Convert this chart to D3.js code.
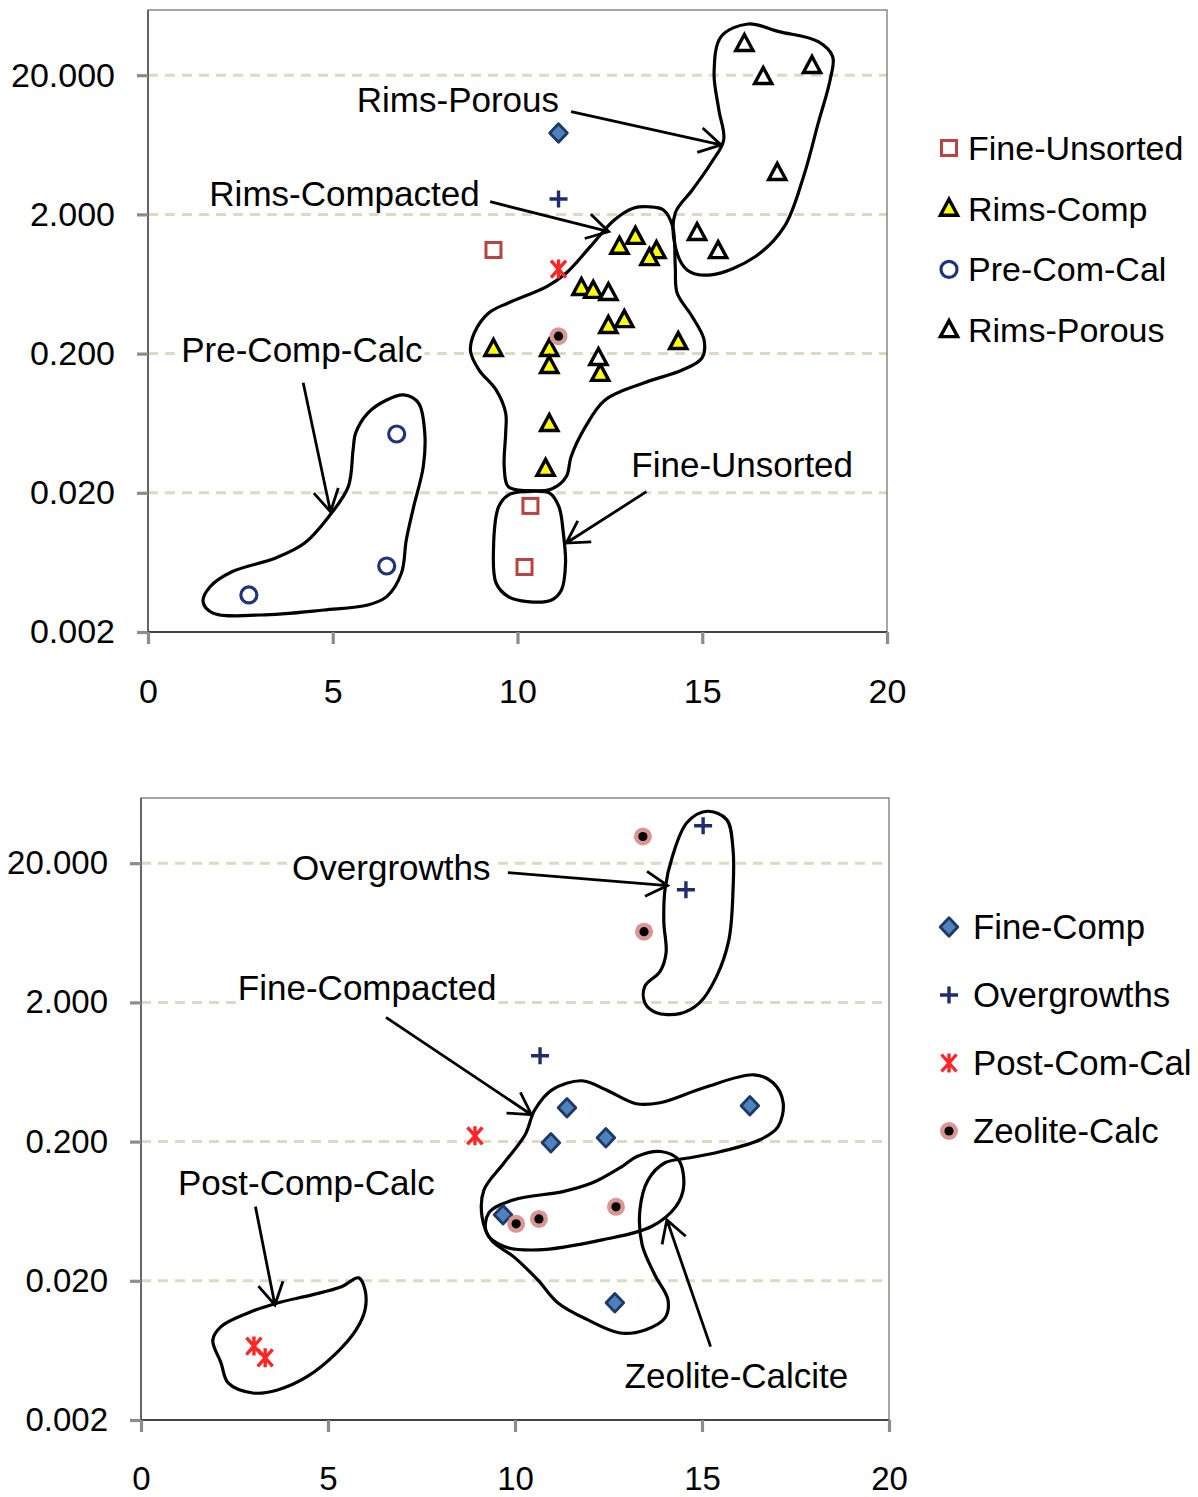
<!DOCTYPE html>
<html><head><meta charset="utf-8">
<script src="https://cdn.jsdelivr.net/npm/d3@7"></script>
<style>body{margin:0;background:#fff}svg{display:block;font-family:"Liberation Sans",Arial,sans-serif}</style>
</head><body><svg id="c" width="1198" height="1497"></svg>
<script>
// ---------- axes ----------
const Y_MIN = 0.002, Y_MAX = 58.8;
const yTicks = [0.002, 0.02, 0.2, 2, 20];
const xTicks = [0, 5, 10, 15, 20];

// ---------- top chart series [x, y] ----------
const topFineUnsorted = [[9.35,1.11],[10.35,0.0161],[10.19,0.00586]];
const topRimsComp = [[12.76,1.17],[13.19,1.38],[13.76,1.09],[13.57,0.97],[11.73,0.592],[12.05,0.564],
  [12.46,0.316],[12.89,0.348],[14.35,0.242],[9.35,0.216],[10.86,0.216],[10.86,0.163],[12.24,0.143],
  [10.86,0.0624],[10.76,0.0297]];
const topPreComCal = [[6.73,0.0529],[6.46,0.00596],[2.73,0.00369]];
const topRimsPorous = [[16.14,33.5],[16.65,19.4],[17.97,23.3],[17.03,3.97],[14.86,1.47],[15.43,1.09],
  [12.46,0.545],[12.19,0.186]];
const topFineComp = [[11.11,7.69]];
const topOvergrowths = [[11.11,2.58]];
const topPostComCal = [[11.11,0.81]];
const topZeolite = [[11.11,0.267]];

// ---------- bottom chart series [x, y] ----------
const botFineComp = [[11.39,0.350],[10.96,0.196],[12.43,0.213],[16.28,0.362],[9.68,0.0596],[12.67,0.0139]];
const botOvergrowths = [[15.03,37.2],[14.57,12.9],[10.67,0.828]];
const botPostComCal = [[8.93,0.220],[3.02,0.0068],[3.32,0.0056]];
const botZeolite = [[13.42,31.1],[13.45,6.44],[10.03,0.0513],[10.64,0.0557],[12.70,0.068]];

// ---------- legends ----------
const topLegend = ["Fine-Unsorted","Rims-Comp","Pre-Com-Cal","Rims-Porous"];
const botLegend = ["Fine-Comp","Overgrowths","Post-Com-Cal","Zeolite-Calc"];

// ---------- hand-drawn annotations: [x, decades above Y_MIN] ----------
const topBlobs = [
  [[16.24,4.368],[17.08,4.313],[18.14,4.241],[18.53,4.133],[18.46,3.966],[18.14,3.657],[17.74,3.271],[17.22,2.912],
   [16.43,2.696],[15.24,2.565],[14.59,2.601],[14.27,2.768],[14.27,3.010],[14.73,3.175],[15.24,3.369],[15.58,3.534],
   [15.45,3.750],[15.32,4.016],[15.51,4.277]],
  [[13.54,3.055],[13.95,3.032],[14.20,2.912],[14.27,2.624],[14.32,2.435],[14.73,2.265],[15.05,2.098],[14.99,1.968],
   [14.46,1.882],[13.41,1.789],[12.37,1.667],[11.84,1.475],[11.45,1.259],[11.32,1.116],[10.92,1.027],[10.27,1.015],
   [9.75,1.044],[9.64,1.188],[9.68,1.430],[9.68,1.573],[9.42,1.739],[8.96,1.882],[8.73,2.014],[8.83,2.148],
   [9.22,2.292],[9.75,2.364],[10.79,2.481],[11.32,2.579],[11.97,2.768],[12.62,2.960],[13.15,3.046]],
  [[10.14,1.008],[10.86,0.999],[11.12,0.900],[11.24,0.711],[11.30,0.496],[11.19,0.302],[10.92,0.230],[10.27,0.218],
   [9.75,0.254],[9.42,0.352],[9.35,0.589],[9.49,0.900],[9.75,0.984]],
  [[6.92,1.703],[7.32,1.645],[7.49,1.430],[7.45,1.188],[7.19,0.900],[6.99,0.661],[6.86,0.424],[6.46,0.254],
   [5.95,0.194],[4.76,0.158],[3.05,0.122],[1.76,0.136],[1.49,0.218],[1.68,0.325],[2.27,0.433],[3.46,0.532],
   [4.24,0.639],[4.89,0.828],[5.42,1.044],[5.55,1.307],[5.62,1.430],[5.95,1.573],[6.46,1.667]]
];
const topArrows = [
  [[11.45,3.738],[15.51,3.499]],
  [[9.26,3.091],[12.47,2.876]],
  [[4.20,1.791],[4.94,0.864]],
  [[13.49,1.008],[11.32,0.639]]
];
const topLabels = [
  ["Rims-Porous",5.65,3.736],
  ["Rims-Compacted",1.66,3.063],
  ["Pre-Comp-Calc",0.90,1.942],
  ["Fine-Unsorted",13.08,1.111]
];
const botBlobs = [
  [[15.13,4.373],[15.66,4.313],[15.83,4.098],[15.83,3.810],[15.72,3.451],[15.39,3.187],[14.94,2.998],[14.41,2.919],
   [13.76,2.928],[13.47,2.998],[13.47,3.115],[13.88,3.223],[14.04,3.357],[13.98,3.573],[14.01,3.810],[14.21,4.050],
   [14.60,4.292]],
  [[10.53,2.229],[10.99,2.372],[11.79,2.437],[12.43,2.372],[13.24,2.272],[13.88,2.279],[15.05,2.387],[16.39,2.480],
   [16.90,2.423],[17.17,2.279],[17.03,2.106],[16.55,2.013],[15.48,1.927],[14.68,1.884],[14.01,1.848],[13.56,1.725],
   [13.34,1.510],[13.40,1.258],[13.74,1.042],[14.09,0.863],[14.01,0.733],[13.48,0.647],[12.81,0.625],[11.95,0.719],
   [11.15,0.841],[10.61,1.006],[9.97,1.172],[9.36,1.294],[9.12,1.459],[9.17,1.653],[9.71,1.848],[10.27,2.049]],
  [[9.30,1.488],[9.97,1.582],[11.28,1.641],[12.07,1.704],[12.86,1.821],[13.26,1.893],[13.90,1.929],[14.37,1.869],
   [14.51,1.677],[14.30,1.533],[13.65,1.390],[12.33,1.294],[10.61,1.222],[9.71,1.246],[9.24,1.344]],
  [[5.82,1.021],[5.99,0.935],[5.99,0.791],[5.75,0.647],[5.23,0.482],[4.44,0.311],[3.65,0.216],[2.99,0.194],
   [2.33,0.266],[2.14,0.410],[1.92,0.575],[2.14,0.671],[2.86,0.769],[3.65,0.841],[4.57,0.899],[5.36,0.958]]
];
const botArrows = [
  [[9.81,3.932],[14.08,3.839]],
  [[6.55,2.892],[10.44,2.193]],
  [[3.06,1.533],[3.58,0.827]],
  [[15.23,0.527],[14.06,1.438]]
];
const botLabels = [
  ["Overgrowths",4.04,3.882],
  ["Fine-Compacted",2.59,3.014],
  ["Post-Comp-Calc",0.99,1.618],
  ["Zeolite-Calcite",12.93,0.228]
];

// ---------- marker styles ----------
const svg = d3.select("#c");
svg.append("rect").attr("width",1198).attr("height",1497).attr("fill","#fff");

function marker(g, type, x, y){
  const m = g.append("g").attr("transform",`translate(${x},${y})`);
  if(type==="square"){
    m.append("rect").attr("x",-7.5).attr("y",-7.5).attr("width",15).attr("height",15)
     .attr("fill","#fff").attr("stroke","#b8433f").attr("stroke-width",3);
  } else if(type==="triY" || type==="triW"){
    m.append("path").attr("d","M0,-9.5L8.6,6.5L-8.6,6.5Z")
     .attr("fill",type==="triY"?"#ffff00":"#fff").attr("stroke","#000").attr("stroke-width",3.4)
     .attr("stroke-linejoin","miter");
  } else if(type==="circle"){
    m.append("circle").attr("r",8).attr("fill","#fff").attr("stroke","#1f3577").attr("stroke-width",3.2);
  } else if(type==="diamond"){
    m.append("path").attr("d","M0,-9.3L8.8,0L0,9.3L-8.8,0Z").attr("fill","#4f81bd")
     .attr("stroke","#1f3864").attr("stroke-width",2.8).attr("stroke-linejoin","round");
  } else if(type==="plus"){
    m.append("path").attr("d","M-9,0H9M0,-8.5V8.5").attr("stroke","#1f2d6b").attr("stroke-width",3.4);
  } else if(type==="star"){
    m.append("path").attr("d","M-7.5,-8.5L7.5,8.5M7.5,-8.5L-7.5,8.5M0,-9.5V9.5").attr("stroke","#ff2626").attr("stroke-width",3.4);
  } else if(type==="zeo"){
    m.append("circle").attr("r",9).attr("fill","#d99694");
    m.append("circle").attr("r",4.6).attr("fill","#000");
  }
}

function drawPanel(p){
  const x = d3.scaleLinear().domain([0,20]).range([p.left,p.right]);
  const y = d3.scaleLog().domain([Y_MIN,Y_MAX]).range([p.bottom,p.top]);
  const yd = d => Y_MIN*Math.pow(10,d);
  const g = svg.append("g");

  // grid
  g.selectAll(".grid").data(yTicks.slice(1)).join("line")
    .attr("x1",p.left).attr("x2",p.right).attr("y1",d=>y(d)).attr("y2",d=>y(d))
    .attr("stroke","#ddd9c3").attr("stroke-width",3).attr("stroke-dasharray","10,7");

  // frame
  g.append("rect").attr("x",p.left).attr("y",p.top).attr("width",p.right-p.left).attr("height",p.bottom-p.top)
    .attr("fill","none").attr("stroke","#6b6b6b").attr("stroke-width",1.2);
  g.append("line").attr("x1",p.left).attr("x2",p.left).attr("y1",p.top).attr("y2",p.bottom)
    .attr("stroke","#555").attr("stroke-width",1.6);
  g.append("line").attr("x1",p.left).attr("x2",p.right).attr("y1",p.bottom).attr("y2",p.bottom)
    .attr("stroke","#222").attr("stroke-width",1.4);

  // axes
  const ya = g.append("g").attr("transform",`translate(${p.left},0)`)
    .call(d3.axisLeft(y).tickValues(yTicks).tickFormat(d3.format(".3f")).tickSize(11).tickPadding(22));
  const xa = g.append("g").attr("transform",`translate(0,${p.bottom})`)
    .call(d3.axisBottom(x).tickValues(xTicks).tickFormat(d3.format("d")).tickSize(12).tickPadding(35));
  [ya,xa].forEach(a=>{
    a.select(".domain").remove();
    a.selectAll(".tick line").attr("stroke","#8c8c8c").attr("stroke-width",3.2);
    a.selectAll(".tick text").attr("fill","#000").attr("font-size",p.tickFont)
      .attr("font-family",'"Liberation Sans",Arial,sans-serif');
  });

  // blobs
  const line = d3.line().x(d=>x(d[0])).y(d=>y(yd(d[1]))).curve(d3.curveCatmullRomClosed.alpha(0.5));
  g.selectAll(".blob").data(p.blobs).join("path").attr("d",line)
    .attr("fill","none").attr("stroke","#000").attr("stroke-width",3.2).attr("stroke-linejoin","round");

  // arrows
  p.arrows.forEach(a=>{
    const x0=x(a[0][0]), y0=y(yd(a[0][1])), x1=x(a[1][0]), y1=y(yd(a[1][1]));
    const ang=Math.atan2(y0-y1,x0-x1), L=25, h=Math.PI/6;
    const d=`M${x0},${y0}L${x1},${y1}M${x1+L*Math.cos(ang+h)},${y1+L*Math.sin(ang+h)}L${x1},${y1}L${x1+L*Math.cos(ang-h)},${y1+L*Math.sin(ang-h)}`;
    g.append("path").attr("d",d).attr("fill","none").attr("stroke","#000").attr("stroke-width",2.8)
      .attr("stroke-linejoin","miter").attr("stroke-linecap","butt");
  });

  // labels
  p.labels.forEach(l=>{
    const lg = g.append("g");
    const t = lg.append("text").attr("x",x(l[1])).attr("y",y(yd(l[2]))).text(l[0])
      .attr("font-size",35).attr("fill","#000");
    const b = t.node().getBBox();
    lg.insert("rect","text").attr("x",b.x-2).attr("y",b.y+2).attr("width",b.width+4).attr("height",b.height-4)
      .attr("fill","#fff");
  });

  // points
  p.series.forEach(s=>{
    s.data.forEach(d=>marker(g,s.type,x(d[0]),y(d[1])));
  });

  // legend
  p.legend.forEach((name,i)=>{
    const cy = p.legY + i*p.legStep;
    marker(g,p.legTypes[i],p.legX,cy);
    g.append("text").attr("x",p.legX+p.legGap).attr("y",cy+12).text(name)
      .attr("font-size",p.legFont).attr("fill","#000");
  });
}

drawPanel({
  left:148,right:887,top:10,bottom:632, tickFont:34,
  blobs:topBlobs, arrows:topArrows, labels:topLabels,
  series:[
    {type:"square",data:topFineUnsorted},
    {type:"triY",data:topRimsComp},
    {type:"circle",data:topPreComCal},
    {type:"triW",data:topRimsPorous},
    {type:"diamond",data:topFineComp},
    {type:"plus",data:topOvergrowths},
    {type:"star",data:topPostComCal},
    {type:"zeo",data:topZeolite}
  ],
  legend:topLegend, legTypes:["square","triY","circle","triW"],
  legX:949, legY:148, legStep:60.7, legGap:19, legFont:34
});
drawPanel({
  left:141,right:889,top:798,bottom:1420, tickFont:33,
  blobs:botBlobs, arrows:botArrows, labels:botLabels,
  series:[
    {type:"diamond",data:botFineComp},
    {type:"plus",data:botOvergrowths},
    {type:"star",data:botPostComCal},
    {type:"zeo",data:botZeolite}
  ],
  legend:botLegend, legTypes:["diamond","plus","star","zeo"],
  legX:949, legY:927, legStep:68, legGap:24, legFont:34.8
});
</script></body></html>
